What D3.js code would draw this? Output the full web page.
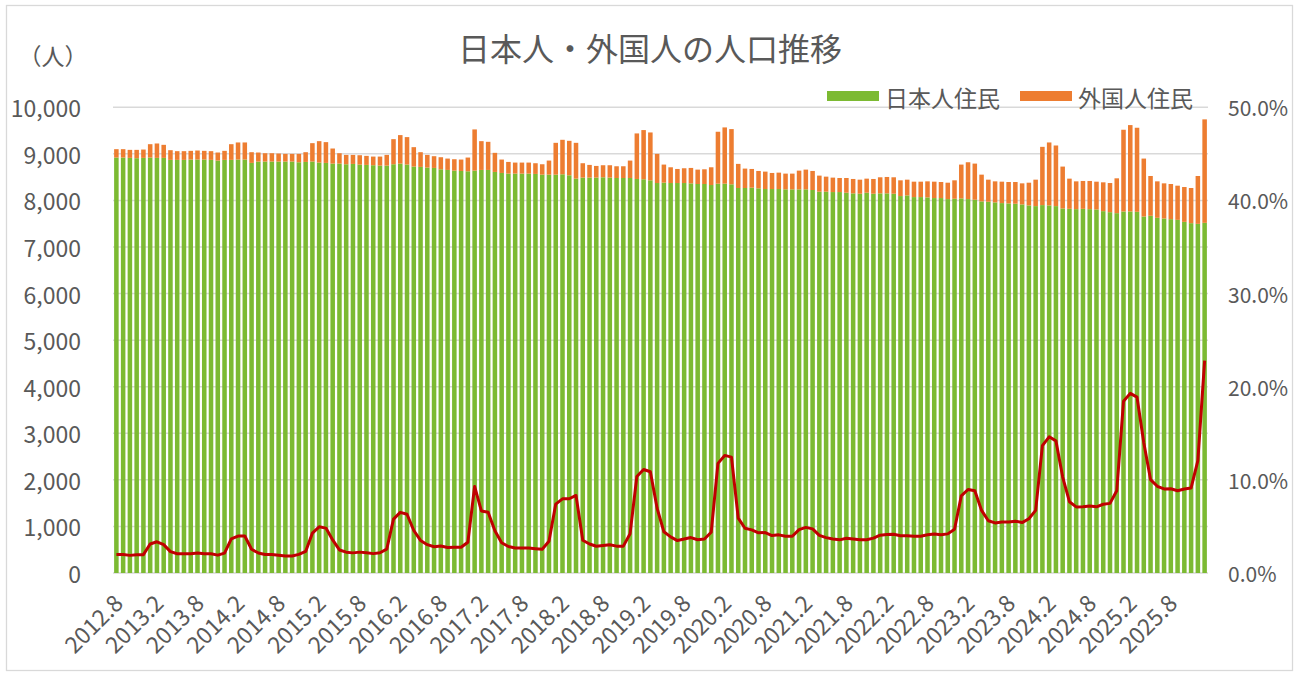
<!DOCTYPE html>
<html>
<head>
<meta charset="utf-8">
<script src="https://cdn.jsdelivr.net/npm/d3@7"></script>
<style>
  html, body { margin: 0; padding: 0; background: #ffffff; }
  svg { display: block; }
  text { font-family: "Noto Sans CJK JP", "Noto Sans", sans-serif; fill: #595959; }
</style>
</head>
<body>
<svg id="chart" width="1300" height="675"></svg>
<script>
// ---- Data ----
const startYear = 2012, startMonth = 8, monthCount = 162;

const japanese = [
  8921, 8921, 8914, 8907, 8914, 8921, 8914, 8914, 8871, 8871,
  8871, 8878, 8878, 8878, 8871, 8856, 8871, 8871, 8878, 8878,
  8806, 8835, 8835, 8835, 8835, 8835, 8835, 8820, 8827, 8835,
  8813, 8806, 8791, 8791, 8777, 8784, 8770, 8763, 8756, 8748,
  8748, 8777, 8791, 8770, 8727, 8720, 8705, 8698, 8669, 8655,
  8640, 8633, 8626, 8640, 8655, 8655, 8612, 8590, 8576, 8576,
  8576, 8576, 8569, 8554, 8554, 8554, 8561, 8540, 8468, 8490,
  8490, 8490, 8497, 8490, 8482, 8482, 8482, 8461, 8454, 8432,
  8374, 8382, 8374, 8374, 8374, 8367, 8353, 8353, 8331, 8360,
  8360, 8346, 8267, 8267, 8274, 8260, 8245, 8245, 8245, 8238,
  8238, 8238, 8238, 8224, 8188, 8188, 8180, 8180, 8166, 8152,
  8144, 8166, 8144, 8152, 8152, 8144, 8094, 8108, 8072, 8072,
  8065, 8051, 8051, 8029, 8036, 8044, 8029, 8015, 7979, 7972,
  7958, 7943, 7936, 7929, 7914, 7893, 7878, 7900, 7893, 7878,
  7828, 7820, 7813, 7820, 7813, 7806, 7770, 7748, 7727, 7763,
  7763, 7756, 7655, 7670, 7627, 7612, 7598, 7583, 7540, 7512,
  7497, 7519
];

const foreign = [
   180,  180,  172,  179,  179,  287,  309,  280,  208,  187,
   187,  187,  194,  187,  187,  173,  194,  337,  367,  367,
   230,  194,  179,  179,  172,  165,  165,  180,  209,  395,
   460,  446,  324,  223,  201,  194,  201,  194,  186,  194,
   230,  539,  612,  590,  417,  316,  273,  252,  259,  244,
   245,  245,  295,  885,  618,  604,  410,  288,  251,  237,
   237,  237,  230,  223,  302,  683,  741,  740,  769,  309,
   273,  251,  259,  266,  252,  252,  374,  978, 1057, 1028,
   626,  388,  338,  302,  317,  331,  309,  316,  381, 1115,
  1208, 1186,  518,  417,  402,  373,  374,  345,  352,  338,
   338,  402,  424,  409,  345,  323,  310,  302,  316,  309,
   302,  302,  317,  345,  352,  353,  338,  338,  331,  331,
   345,  352,  345,  352,  396,  726,  791,  776,  575,  474,
   452,  460,  460,  467,  453,  488,  568, 1251, 1352, 1302,
   899,  648,  597,  598,  605,  597,  619,  626,  748, 1755,
  1855, 1805, 1244,  855,  783,  755,  755,  734,  748,  755,
  1028, 2222
];

const tickLabels = [
  "2012.8","2013.2","2013.8","2014.2","2014.8","2015.2","2015.8","2016.2","2016.8",
  "2017.2","2017.8","2018.2","2018.8","2019.2","2019.8","2020.2","2020.8","2021.2",
  "2021.8","2022.2","2022.8","2023.2","2023.8","2024.2","2024.8","2025.2","2025.8"
];
const leftTicks = [0,1000,2000,3000,4000,5000,6000,7000,8000,9000,10000];
const rightTicks = [0,0.1,0.2,0.3,0.4,0.5];
const seriesNames = ["日本人住民", "外国人住民"];
const colors = { jp: "#7cba32", fr: "#ed7d31", line: "#c00000", grid: "#d9d9d9" };

// categories (months)
const categories = [];
for (let i = 0; i < monthCount; i++) {
  const m = startMonth - 1 + i;
  categories.push((startYear + Math.floor(m / 12)) + "." + (m % 12 + 1));
}
const rows = categories.map((c, i) => ({ cat: c, jp: japanese[i], fr: foreign[i] }));

// ---- Layout ----
const svg = d3.select("#chart");
const plot = { left: 113, right: 1208, top: 107.3, bottom: 573 };

svg.append("rect").attr("x", 6.5).attr("y", 5.5).attr("width", 1286).attr("height", 665)
  .attr("fill", "#fff").attr("stroke", "#d9d9d9").attr("stroke-width", 1.3);

const x = d3.scaleBand().domain(categories).range([plot.left, plot.right])
  .paddingInner(0.33).paddingOuter(0.165);
const y = d3.scaleLinear().domain([0, 10000]).range([plot.bottom, plot.top]);
const yR = d3.scaleLinear().domain([0, 0.5]).range([plot.bottom, plot.top]);

// gridlines
svg.append("g").selectAll("line").data(leftTicks).join("line")
  .attr("x1", plot.left).attr("x2", plot.right)
  .attr("y1", d => y(d)).attr("y2", d => y(d))
  .attr("stroke", colors.grid).attr("stroke-width", 1.5);

// stacked bars
const stack = d3.stack().keys(["jp", "fr"])(rows);
const fills = [colors.jp, colors.fr];
svg.append("g").selectAll("g").data(stack).join("g")
  .attr("fill", (d, i) => fills[i])
  .selectAll("rect").data(d => d).join("rect")
  .attr("x", d => x(d.data.cat))
  .attr("width", x.bandwidth())
  .attr("y", d => y(d[1]))
  .attr("height", d => y(d[0]) - y(d[1]));

// ratio line (foreign share of total)
const line = d3.line()
  .x(d => x(d.cat) + x.bandwidth() / 2)
  .y(d => yR(d.fr / (d.jp + d.fr)));
svg.append("path").datum(rows)
  .attr("d", line).attr("fill", "none")
  .attr("stroke", colors.line).attr("stroke-width", 3)
  .attr("stroke-linejoin", "round");

// left axis
const fmt = d3.format(",");
svg.append("g").selectAll("text").data(leftTicks).join("text")
  .attr("x", 81).attr("y", d => y(d)).attr("text-anchor", "end")
  .attr("dominant-baseline", "central").attr("font-size", 23)
  .text(d => fmt(d));

// right axis
svg.append("g").selectAll("text").data(rightTicks).join("text")
  .attr("x", 1228).attr("y", d => yR(d)).attr("text-anchor", "start")
  .attr("dominant-baseline", "central").attr("font-size", 21)
  .text(d => d3.format(".1%")(d));

// x tick labels
const labelSet = new Set(tickLabels);
svg.append("g").selectAll("text").data(categories.filter(c => labelSet.has(c))).join("text")
  .attr("transform", d => `translate(${x(d) + x.bandwidth() / 2 + 1},598) rotate(-45)`)
  .attr("text-anchor", "end").attr("dominant-baseline", "central")
  .attr("font-size", 23)
  .text(d => d);

// title & unit
svg.append("text").attr("x", 650).attr("y", 47).attr("text-anchor", "middle")
  .attr("dominant-baseline", "central").attr("font-size", 32)
  .text("日本人・外国人の人口推移");
svg.append("text").attr("x", 53).attr("y", 55).attr("text-anchor", "middle")
  .attr("dominant-baseline", "central").attr("font-size", 23)
  .text("（人）");

// legend
const legend = [
  { name: seriesNames[0], color: colors.jp, x: 827 },
  { name: seriesNames[1], color: colors.fr, x: 1020 }
];
const lg = svg.append("g").selectAll("g").data(legend).join("g");
lg.append("rect").attr("x", d => d.x).attr("y", 91).attr("width", 52).attr("height", 10)
  .attr("fill", d => d.color);
lg.append("text").attr("x", d => d.x + 58).attr("y", 97)
  .attr("dominant-baseline", "central").attr("font-size", 23)
  .text(d => d.name);
</script>
</body>
</html>
